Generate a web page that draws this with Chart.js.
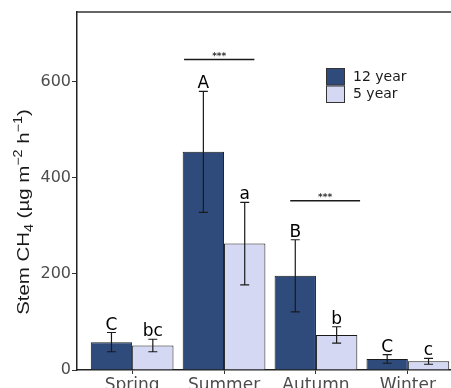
<!DOCTYPE html>
<html>
<head>
<meta charset="utf-8">
<script src="https://cdn.jsdelivr.net/npm/chart.js@4"></script>
<style>
  html, body { margin: 0; padding: 0; background: #fff; overflow: hidden; }
  #wrap { width: 470px; height: 388px; }
</style>
</head>
<body>
<div id="wrap"><canvas id="chart" width="470" height="388"></canvas></div>
<script>
const seasons = ["Spring", "Summer", "Autumn", "Winter"];
const mean12 = [58, 454, 196, 23];
const err12 = [20, 126, 75, 9];
const mean5 = [51, 263, 73, 18];
const err5 = [13, 86, 17, 6];
const letters12 = ["C", "A", "B", "C"];
const letters5 = ["bc", "a", "b", "c"];
const yTicks = [0, 200, 400, 600];
// significance bars: from / to on the season axis, height in data units
const sigFrom = [0.565, 1.72];
const sigTo = [1.33, 2.48];
const sigY = [646, 352];
const sigText = ["***", "***"];
// y title pieces: text, size, baseline shift (sub / superscript)
const yTitle = [
    ["Stem CH", 17, 0],
    ["4", 12, 4],
    [" (\u00b5g m", 17, 0],
    ["\u22122", 12, -7],
    [" h", 17, 0],
    ["\u22121", 12, -7],
    [")", 17, 0]
];

const dark = "#2f4b7c";
const light = "#d4d8f3";

const extras = {
    id: "extras",
    afterDatasetsDraw(chart) {
        const ctx = chart.ctx;
        const y = chart.scales.y;
        const x = chart.scales.x;
        const a = chart.chartArea;
        const errs = [err12, err5];
        const means = [mean12, mean5];
        const letters = [letters12, letters5];
        ctx.save();

        // error bars + group letters
        chart.data.datasets.forEach((ds, d) => {
            const meta = chart.getDatasetMeta(d);
            meta.data.forEach((bar, i) => {
                const top = y.getPixelForValue(means[d][i] + errs[d][i]);
                const bot = y.getPixelForValue(means[d][i] - errs[d][i]);
                ctx.strokeStyle = "#1a1a1a";
                ctx.lineWidth = 1.2;
                ctx.beginPath();
                ctx.moveTo(bar.x, top);
                ctx.lineTo(bar.x, bot);
                ctx.moveTo(bar.x - 4.5, top);
                ctx.lineTo(bar.x + 4.5, top);
                ctx.moveTo(bar.x - 4.5, bot);
                ctx.lineTo(bar.x + 4.5, bot);
                ctx.stroke();
                ctx.fillStyle = "#000";
                ctx.font = "17px 'DejaVu Sans'";
                ctx.textAlign = "center";
                ctx.textBaseline = "alphabetic";
                ctx.fillText(letters[d][i], bar.x, top - 3);
            });
        });

        // significance lines
        for (let k = 0; k < sigY.length; k++) {
            const x1 = x.getPixelForValue(sigFrom[k]);
            const x2 = x.getPixelForValue(sigTo[k]);
            const yy = y.getPixelForValue(sigY[k]);
            ctx.strokeStyle = "#1a1a1a";
            ctx.lineWidth = 1.5;
            ctx.beginPath();
            ctx.moveTo(x1, yy);
            ctx.lineTo(x2, yy);
            ctx.stroke();
            ctx.fillStyle = "#333";
            ctx.font = "bold 9px 'DejaVu Sans'";
            ctx.textAlign = "center";
            ctx.textBaseline = "alphabetic";
            ctx.fillText(sigText[k], (x1 + x2) / 2, yy - 1);
        }

        // top frame line
        ctx.strokeStyle = "#333";
        ctx.lineWidth = 1.5;
        ctx.beginPath();
        ctx.moveTo(a.left, a.top);
        ctx.lineTo(a.right, a.top);
        ctx.stroke();

        // legend
        const lx = a.left + 249;
        const ly = a.top + 56;
        chart.data.datasets.forEach((ds, d) => {
            ctx.fillStyle = ds.backgroundColor;
            ctx.fillRect(lx, ly + d * 17.5, 19, 17.5);
            ctx.strokeStyle = "#333";
            ctx.lineWidth = 1;
            ctx.strokeRect(lx + 0.5, ly + d * 17.5 + 0.5, 18, 16.5);
            ctx.fillStyle = "#1a1a1a";
            ctx.font = "14px 'DejaVu Sans'";
            ctx.textAlign = "left";
            ctx.textBaseline = "middle";
            ctx.fillText(ds.label, lx + 27, ly + d * 17.5 + 9);
        });

        // y axis title with sub/superscripts
        const stretch = 1.2;
        let total = 0;
        yTitle.forEach(([t, s]) => {
            ctx.font = s + "px 'Liberation Sans'";
            total += ctx.measureText(t).width;
        });
        total *= stretch;
        ctx.translate(29, 212 + total / 2);
        ctx.rotate(-Math.PI / 2);
        ctx.scale(stretch, 1);
        ctx.fillStyle = "#1a1a1a";
        ctx.textAlign = "left";
        ctx.textBaseline = "alphabetic";
        let cx = 0;
        yTitle.forEach(([t, s, dy]) => {
            ctx.font = s + "px 'Liberation Sans'";
            ctx.fillText(t, cx, dy);
            cx += ctx.measureText(t).width;
        });
        ctx.restore();
    }
};

new Chart(document.getElementById("chart"), {
    type: "bar",
    data: {
        datasets: [
            {
                label: "12 year",
                data: mean12.map((v, i) => ({ x: i, y: v })),
                backgroundColor: dark,
                borderColor: "#1a1a1a",
                borderWidth: 1
            },
            {
                label: "5 year",
                data: mean5.map((v, i) => ({ x: i, y: v })),
                backgroundColor: light,
                borderColor: "#1a1a1a",
                borderWidth: 1
            }
        ]
    },
    options: {
        responsive: false,
        animation: false,
        categoryPercentage: 0.9,
        barPercentage: 1,
        layout: { padding: { top: 12, right: 7, left: 0, bottom: 0 } },
        plugins: {
            legend: { display: false },
            tooltip: { enabled: false }
        },
        scales: {
            x: {
                type: "linear",
                min: -0.6,
                max: 3.6,
                offset: false,
                afterBuildTicks: (s) => { s.ticks = seasons.map((_, i) => ({ value: i })); },
                afterFit: (s) => { s.height = 18; },
                ticks: {
                    callback: (v) => seasons[v],
                    color: "#4d4d4d",
                    font: { family: "DejaVu Sans", size: 17 },
                    padding: 1,
                    maxRotation: 0,
                    autoSkip: false
                },
                grid: { drawOnChartArea: false, offset: false, tickLength: 4, color: "#333" },
                border: { color: "#222", width: 1.5 }
            },
            y: {
                min: 0,
                max: 745,
                afterBuildTicks: (s) => { s.ticks = yTicks.map((v) => ({ value: v })); },
                afterFit: (s) => { s.width = 77; },
                ticks: {
                    color: "#4d4d4d",
                    font: { family: "DejaVu Sans", size: 16 },
                    padding: 1
                },
                grid: { drawOnChartArea: false, tickLength: 5, color: "#333" },
                border: { color: "#222", width: 1.5 }
            }
        }
    },
    plugins: [extras]
});
</script>
</body>
</html>
